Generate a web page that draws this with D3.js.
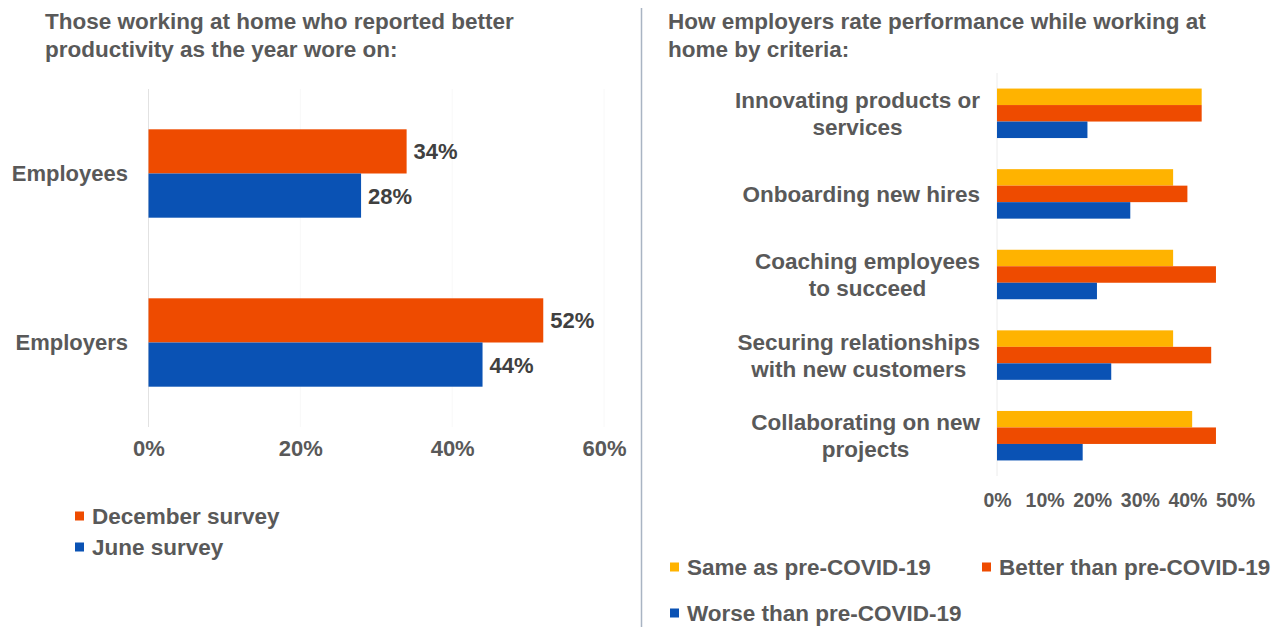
<!DOCTYPE html>
<html>
<head>
<meta charset="utf-8">
<script src="https://cdn.jsdelivr.net/npm/d3@7/dist/d3.min.js"></script>
<style>
  html, body { margin: 0; padding: 0; background: #fff; }
  svg { display: block; font-family: "Liberation Sans", Arial, sans-serif; font-weight: bold; }
</style>
</head>
<body>
<svg id="chart" width="1271" height="627"></svg>
<script>
// ---- Left panel: productivity reported by survey wave ----
const groupsLeft = ["Employees", "Employers"];
const seriesLeft = ["December survey", "June survey"];
const decemberValues = [0.34, 0.52];
const juneValues = [0.28, 0.44];
const ticksLeft = [0, 0.2, 0.4, 0.6];

// ---- Right panel: employer ratings by criteria ----
const criteria = [
  "Innovating products or|services",
  "Onboarding new hires",
  "Coaching employees|to succeed",
  "Securing relationships|with new customers",
  "Collaborating on new|projects"
];
const seriesRight = ["Same as pre-COVID-19", "Better than pre-COVID-19", "Worse than pre-COVID-19"];
const sameValues = [0.43, 0.37, 0.37, 0.37, 0.41];
const betterValues = [0.43, 0.40, 0.46, 0.45, 0.46];
const worseValues = [0.19, 0.28, 0.21, 0.24, 0.18];
const ticksRight = [0, 0.1, 0.2, 0.3, 0.4, 0.5];

const ORANGE = "#ee4b00", BLUE = "#0a52b4", YELLOW = "#ffb300";
const TEXT = "#595959", VALUE_TEXT = "#404040";
const FS_BIG = 22.5, FS = 22, FS_TICK_R = 19.5;
const pct = d3.format(".0%");

const svg = d3.select("#chart");

// divider between the two panels
svg.append("line")
  .attr("x1", 641.5).attr("x2", 641.5).attr("y1", 8).attr("y2", 627)
  .attr("stroke", "#a9b4c3").attr("stroke-width", 1.5);

function title(x, lines) {
  const t = svg.append("text").attr("fill", TEXT).attr("font-size", FS_BIG);
  lines.forEach((l, i) => t.append("tspan").attr("x", x).attr("y", 29 + i * 28).text(l));
}
title(45, ["Those working at home who reported better", "productivity as the year wore on:"]);
title(668, ["How employers rate performance while working at", "home by criteria:"]);

// ================= Left chart =================
{
  const x = d3.scaleLinear().domain([0, 0.6]).range([148.5, 604]);
  const y = d3.scaleBand().domain(groupsLeft).range([89, 427]).paddingInner(0.477).paddingOuter(0.2385);
  const inner = d3.scaleBand().domain(seriesLeft).range([0, y.bandwidth()]);
  const color = d3.scaleOrdinal().domain(seriesLeft).range([ORANGE, BLUE]);

  const rows = groupsLeft.map((g, i) => ({
    group: g,
    values: [
      { s: seriesLeft[0], v: decemberValues[i] },
      { s: seriesLeft[1], v: juneValues[i] }
    ]
  }));

  // faint gridlines and the category axis line
  svg.append("g").selectAll("line").data(ticksLeft.slice(1)).join("line")
    .attr("x1", d => x(d)).attr("x2", d => x(d))
    .attr("y1", 89).attr("y2", 427)
    .attr("stroke", "#f8f8f8");
  svg.append("line").attr("x1", x(0)).attr("x2", x(0)).attr("y1", 89).attr("y2", 427)
    .attr("stroke", "#e2e2e2");

  const g = svg.append("g").selectAll("g").data(rows).join("g")
    .attr("transform", d => `translate(0,${y(d.group)})`);
  g.selectAll("rect").data(d => d.values).join("rect")
    .attr("x", x(0)).attr("y", d => inner(d.s))
    .attr("width", d => x(d.v) - x(0)).attr("height", inner.bandwidth())
    .attr("fill", d => color(d.s));
  g.selectAll("text.val").data(d => d.values).join("text").attr("class", "val")
    .attr("x", d => x(d.v) + 7).attr("y", d => inner(d.s) + inner.bandwidth() / 2)
    .attr("dy", "0.36em").attr("fill", VALUE_TEXT).attr("font-size", FS)
    .text(d => pct(d.v));

  // category labels
  const yAxis = svg.append("g").attr("transform", "translate(128,0)")
    .call(d3.axisLeft(y).tickSize(0).tickPadding(0));
  yAxis.select(".domain").remove();
  yAxis.selectAll("text").attr("fill", TEXT).attr("font-size", FS)
    .attr("font-family", null).attr("font-weight", "bold");

  // value axis labels
  const xAxis = svg.append("g").attr("transform", "translate(0,440)")
    .call(d3.axisBottom(x).tickValues(ticksLeft).tickFormat(pct).tickSize(0).tickPadding(0));
  xAxis.select(".domain").remove();
  xAxis.selectAll("text").attr("fill", TEXT).attr("font-size", FS)
    .attr("font-family", null).attr("font-weight", "bold");

  // legend
  const lg = svg.append("g").selectAll("g").data(seriesLeft).join("g")
    .attr("transform", (d, i) => `translate(75,${516 + i * 31})`);
  lg.append("rect").attr("x", 0).attr("y", -4.5).attr("width", 9).attr("height", 9)
    .attr("fill", d => color(d));
  lg.append("text").attr("x", 17).attr("dy", "0.36em").attr("fill", TEXT)
    .attr("font-size", FS_BIG).text(d => d);
}

// ================= Right chart =================
{
  const x = d3.scaleLinear().domain([0, 0.5]).range([997, 1235]);
  const y = d3.scaleBand().domain(criteria).range([73, 476]).paddingInner(0.386).paddingOuter(0.193);
  const inner = d3.scaleBand().domain(seriesRight).range([0, y.bandwidth()]);
  const color = d3.scaleOrdinal().domain(seriesRight).range([YELLOW, ORANGE, BLUE]);

  const rows = criteria.map((c, i) => ({
    group: c,
    values: [
      { s: seriesRight[0], v: sameValues[i] },
      { s: seriesRight[1], v: betterValues[i] },
      { s: seriesRight[2], v: worseValues[i] }
    ]
  }));

  svg.append("line").attr("x1", x(0)).attr("x2", x(0)).attr("y1", 73).attr("y2", 476)
    .attr("stroke", "#ececec");

  const g = svg.append("g").selectAll("g").data(rows).join("g")
    .attr("transform", d => `translate(0,${y(d.group)})`);
  g.selectAll("rect").data(d => d.values).join("rect")
    .attr("x", x(0)).attr("y", d => inner(d.s))
    .attr("width", d => x(d.v) - x(0)).attr("height", inner.bandwidth())
    .attr("fill", d => color(d.s));

  // multi-line category labels: each block centred, its widest line ending near the axis
  const labelRight = 980;
  const lbl = svg.append("g").selectAll("text").data(criteria).join("text")
    .attr("fill", TEXT).attr("font-size", FS_BIG).attr("text-anchor", "middle");
  lbl.each(function (d) {
    const lines = d.split("|");
    const t = d3.select(this);
    const cy = y(d) + y.bandwidth() / 2;
    lines.forEach((l, i) => {
      t.append("tspan").attr("y", cy + (i - (lines.length - 1) / 2) * 27)
        .attr("dy", "0.36em").text(l);
    });
    let maxW = 0;
    t.selectAll("tspan").each(function () { maxW = Math.max(maxW, this.getComputedTextLength()); });
    t.selectAll("tspan").attr("x", labelRight - maxW / 2);
  });

  const xAxis = svg.append("g").attr("transform", "translate(0,493)")
    .call(d3.axisBottom(x).tickValues(ticksRight).tickFormat(pct).tickSize(0).tickPadding(0));
  xAxis.select(".domain").remove();
  xAxis.selectAll("text").attr("fill", TEXT).attr("font-size", FS_TICK_R)
    .attr("font-family", null).attr("font-weight", "bold");

  // legend
  const pos = [[670, 567], [982, 567], [670, 613]];
  const lg = svg.append("g").selectAll("g").data(seriesRight).join("g")
    .attr("transform", (d, i) => `translate(${pos[i][0]},${pos[i][1]})`);
  lg.append("rect").attr("x", 0).attr("y", -4.5).attr("width", 9).attr("height", 9)
    .attr("fill", d => color(d));
  lg.append("text").attr("x", 17).attr("dy", "0.36em").attr("fill", TEXT)
    .attr("font-size", FS_BIG).text(d => d);
}
</script>
</body>
</html>
